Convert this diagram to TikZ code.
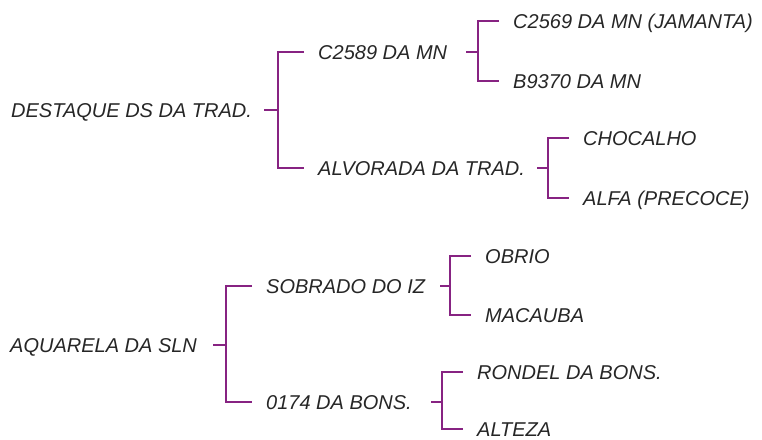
\documentclass[tikz,border=0pt]{standalone}
\usepackage{fontspec}
\setmainfont{Liberation Sans}
\definecolor{brk}{RGB}{135,35,130}
\tikzset{
  lbl/.style={anchor=west, inner sep=0pt, text height=14.4pt, text depth=0pt,
    font=\fontsize{20}{23}\selectfont\itshape, text=black!85},
  conn/.style={draw=brk, line width=2pt, line cap=butt, line join=miter}
}
\begin{document}
\begin{tikzpicture}[x=1pt,y=-1pt]
\useasboundingbox (0,0) rectangle (762,439);
% top tree
\node[lbl] (r1) at (11,110) {DESTAQUE DS DA TRAD.};
\node[lbl] (a1) at (318,52) {C2589 DA MN};
\node[lbl] (a2) at (318,168) {ALVORADA DA TRAD.};
\node[lbl] (a11) at (513,21) {C2569 DA MN (JAMANTA)};
\node[lbl] (a12) at (513,81) {B9370 DA MN};
\node[lbl] (a21) at (583,138) {CHOCALHO};
\node[lbl] (a22) at (583,198) {ALFA (PRECOCE)};
\coordinate (s1) at (264,110);  \coordinate (k1) at (278,110);
\coordinate (s11) at (466,52);  \coordinate (k11) at (478,52);
\coordinate (s12) at (537,168); \coordinate (k12) at (548,168);
% bottom tree
\node[lbl] (r2) at (10,345) {AQUARELA DA SLN};
\node[lbl] (b1) at (266,286) {SOBRADO DO IZ};
\node[lbl] (b2) at (266,402) {0174 DA BONS.};
\node[lbl] (b11) at (485,256) {OBRIO};
\node[lbl] (b12) at (485,315) {MACAUBA};
\node[lbl] (b21) at (477,372) {RONDEL DA BONS.};
\node[lbl] (b22) at (477,429) {ALTEZA};
\coordinate (s2) at (213,345);  \coordinate (k2) at (226,345);
\coordinate (s21) at (440,286); \coordinate (k21) at (450,286);
\coordinate (s22) at (431,403); \coordinate (k22) at (442,403);
% connectors
\foreach \p/\s/\k/\c/\d in {r1/s1/k1/a1/a2, a1/s11/k11/a11/a12, a2/s12/k12/a21/a22,
                         r2/s2/k2/b1/b2, b1/s21/k21/b11/b12, b2/s22/k22/b21/b22} {
  \draw[conn] (\p.east -| \s) -- (\p.east -| \k);
  \draw[conn] ([xshift=-14pt]\c.west) -- (\c.west -| \k) -- (\d.west -| \k) -- ([xshift=-14pt]\d.west);
}
\end{tikzpicture}
\end{document}
